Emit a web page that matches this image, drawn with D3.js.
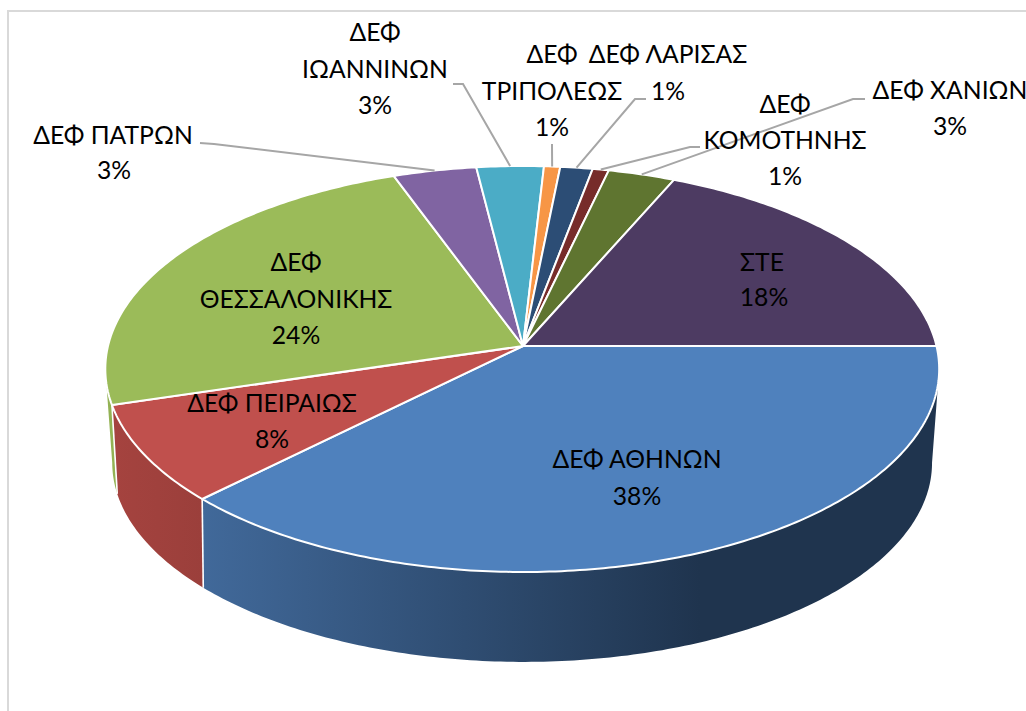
<!DOCTYPE html>
<html><head><meta charset="utf-8">
<script src="https://cdn.jsdelivr.net/npm/d3@7"></script>
<style>html,body{margin:0;padding:0;background:#fff}svg{display:block}text{font-family:Lato,"Open Sans","Noto Sans",sans-serif;font-size:24.7px;fill:#000;text-anchor:middle}</style>
</head><body><div id="chart"></div>
<script>
const categories=["ΔΕΦ ΑΘΗΝΩΝ","ΔΕΦ ΠΕΙΡΑΙΩΣ","ΔΕΦ ΘΕΣΣΑΛΟΝΙΚΗΣ","ΔΕΦ ΠΑΤΡΩΝ","ΔΕΦ ΙΩΑΝΝΙΝΩΝ","ΔΕΦ ΤΡΙΠΟΛΕΩΣ","ΔΕΦ ΛΑΡΙΣΑΣ","ΔΕΦ ΚΟΜΟΤΗΝΗΣ","ΔΕΦ ΧΑΝΙΩΝ","ΣΤΕ"];
const values=[37.6,7.8,24.0,3.6,2.9,0.7,1.4,0.7,2.9,18.4];
const percentLabels=["38%","8%","24%","3%","3%","1%","1%","1%","3%","18%"];
const colors=["#4f81bd","#c0504d","#9bbb59","#8064a2","#4bacc6","#f79646","#2c4d75","#772c2a","#5f7530","#4d3b62"];
const wallLeft=["#41699a","#a5433f","#93b254","#6f5690","#3f97ae","#d9823b","#254264","#662523","#51652a","#40314f"];
const wallRight=["#1f344e","#9b3f3b","#93b254","#6f5690","#3f97ae","#d9823b","#254264","#662523","#51652a","#40314f"];
// label lines, each: [text, x, baseline y]
const labelLines=[
 [["ΔΕΦ ΑΘΗΝΩΝ",637,468],["38%",637,505]],
 [["ΔΕΦ ΠΕΙΡΑΙΩΣ",272,412],["8%",272,448]],
 [["ΔΕΦ",296,271],["ΘΕΣΣΑΛΟΝΙΚΗΣ",296,308],["24%",296,344]],
 [["ΔΕΦ ΠΑΤΡΩΝ",113,144],["3%",114,179]],
 [["ΔΕΦ",375,41],["ΙΩΑΝΝΙΝΩΝ",375,78],["3%",375,114]],
 [["ΔΕΦ",552,63],["ΤΡΙΠΟΛΕΩΣ",552,100],["1%",552,136]],
 [["ΔΕΦ ΛΑΡΙΣΑΣ",668,63],["1%",668,100]],
 [["ΔΕΦ",785,113],["ΚΟΜΟΤΗΝΗΣ",785,149],["1%",785,185]],
 [["ΔΕΦ ΧΑΝΙΩΝ",950,99],["3%",950,135]],
 [["ΣΤΕ",762,271],["18%",764,306]]
];
// leader: start point next to the label, then elbow; the end is on the slice rim
const leaders=[null,null,null,
 [[200,143],[214,144]],
 [[453,84],[463,84]],
 [[552,144],[552,146]],
 [[646,99],[635,99]],
 [[700,147],[690,147]],
 [[865,99],[853,99]],
 null];

const W=1026,H=711;
const svg=d3.select("#chart").append("svg").attr("width",W).attr("height",H);
const kTop=0.1133,kBot=0.135;
const topX=d3.scaleLinear().domain([-1,0,1]).range([523-415,523,523+413.5]);
const topY=d3.scaleLinear().domain([-1,1]).range([346-200.4,346+200.4]);
const botX=d3.scaleLinear().domain([-1,0,1]).range([524-408,524,524+404.3]);
const botY=d3.scaleLinear().domain([-1,1]).range([436-195.4,436+195.4]);
const proj=(sx,sy,k,t)=>{const w=1-k*Math.sin(t);return [sx(Math.cos(t)/w),sy(Math.sin(t)/w)];};
const rim=(sx,sy,k,a,b)=>{const n=Math.max(2,Math.ceil((b-a)/(Math.PI/240)));return d3.range(n+1).map(i=>proj(sx,sy,k,a+(b-a)*i/n));};
const pT=t=>proj(topX,topY,kTop,t), pB=t=>proj(botX,botY,kBot,t);
const pie=d3.pie().sort(null).startAngle(0).endAngle(2*Math.PI).value(d=>d);
const arcs=pie(values).map((d,i)=>({...d,i}));
const line=d3.line();
// the side wall is only visible between the two silhouette tangents
const tTop=Math.asin(kTop),tBot=Math.asin(kBot);
const visible=arcs.filter(d=>d.startAngle<Math.PI-tBot&&d.endAngle>tTop).map(d=>({...d,
  a1:Math.max(d.startAngle,tTop),b1:Math.min(d.endAngle,Math.PI-tTop),
  a2:Math.max(d.startAngle,tBot),b2:Math.min(d.endAngle,Math.PI-tBot)}));
const defs=svg.append("defs");
visible.forEach(d=>{
  const xs=rim(topX,topY,kTop,d.a1,d.b1).map(p=>p[0]);
  const g=defs.append("linearGradient").attr("id","w"+d.i).attr("gradientUnits","userSpaceOnUse")
    .attr("x1",d3.min(xs)).attr("x2",d.i===0?700:d3.max(xs)).attr("y1",0).attr("y2",0);
  g.append("stop").attr("offset",0).attr("stop-color",wallLeft[d.i]);
  g.append("stop").attr("offset",1).attr("stop-color",wallRight[d.i]);
});
// frame
svg.append("path").attr("d",line([[W,11],[8,11],[8,H]])).attr("fill","none").attr("stroke","#d9d9d9").attr("stroke-width",2);
// walls
visible.forEach(d=>{
  const up=rim(topX,topY,kTop,d.a1,d.b1),lo=rim(botX,botY,kBot,d.a2,d.b2).reverse();
  svg.append("path").attr("d",line(up.concat(lo))+"Z").attr("fill",`url(#w${d.i})`);
});
// white dividers between neighbouring walls
visible.filter(d=>d.endAngle<Math.PI-tBot).forEach(d=>{
  svg.append("path").attr("d",line([pT(d.endAngle),pB(d.endAngle)])).attr("stroke","#fff").attr("stroke-width",1.6).attr("fill","none");
});
// top face
arcs.forEach(d=>{
  const pts=[[topX(0),topY(0)]].concat(rim(topX,topY,kTop,d.startAngle,d.endAngle));
  svg.append("path").attr("d",line(pts)+"Z").attr("fill",colors[d.i]).attr("stroke","#fff").attr("stroke-width",2).attr("stroke-linejoin","round");
});
// leaders
arcs.forEach(d=>{
  const l=leaders[d.i]; if(!l) return;
  const end=pT((d.startAngle+d.endAngle)/2);
  svg.append("path").attr("d",line(l.concat([end]))).attr("fill","none").attr("stroke","#a6a6a6").attr("stroke-width",2);
});
// labels
labelLines.forEach(ls=>ls.forEach(([t,x,y])=>svg.append("text").attr("x",x).attr("y",y).text(t)));
</script></body></html>
